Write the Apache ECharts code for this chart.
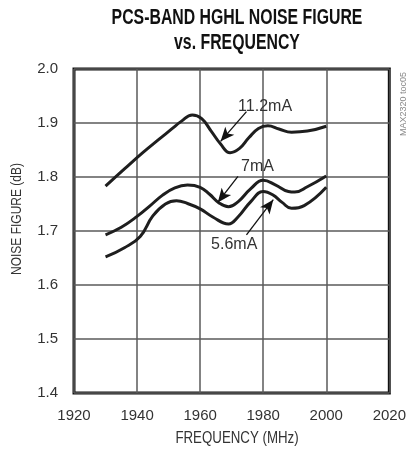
<!DOCTYPE html>
<html>
<head>
<meta charset="utf-8">
<script src="https://cdn.jsdelivr.net/npm/echarts@6/dist/echarts.min.js"></script>
<style>
    html, body { margin: 0; padding: 0; background: #fff; }
    #chart { width: 409px; height: 452px; }
</style>
</head>
<body>
<div id="chart"></div>
<script>
    // 频率轴刻度
    var xTicks = [1920, 1940, 1960, 1980, 2000, 2020]
    var yTicks = [1.4, 1.5, 1.6, 1.7, 1.8, 1.9, 2.0]

    // 11.2mA
    var freq112 = [1930, 1936, 1942, 1947, 1951, 1954, 1957.5, 1960.5, 1963.5, 1966.5, 1969.5, 1972.5, 1975.5, 1978.5, 1981.5, 1985, 1989, 1994, 2000]
    var nf112 = [1.783, 1.815, 1.846, 1.870, 1.889, 1.903, 1.915, 1.908, 1.885, 1.861, 1.845, 1.853, 1.873, 1.890, 1.895, 1.889, 1.883, 1.885, 1.894]

    // 7mA
    var freq7 = [1930, 1935, 1940, 1944, 1948, 1952, 1956, 1960, 1963, 1966, 1969, 1972, 1976, 1980, 1984, 1988, 1990, 1994, 2000]
    var nf7 = [1.693, 1.707, 1.727, 1.746, 1.766, 1.780, 1.785, 1.781, 1.768, 1.752, 1.745, 1.754, 1.778, 1.794, 1.785, 1.773, 1.772, 1.782, 1.802]

    // 5.6mA
    var freq56 = [1930, 1936, 1941, 1945, 1949, 1952.5, 1956, 1960, 1964, 1969, 1972, 1976, 1980, 1983, 1986, 1989, 1993, 2000]
    var nf56 = [1.652, 1.669, 1.690, 1.728, 1.750, 1.756, 1.751, 1.741, 1.726, 1.713, 1.726, 1.754, 1.773, 1.767, 1.753, 1.742, 1.747, 1.781]

    // 标注: 文字位置, 箭头起点, 箭头终点
    var curveNames = ['11.2mA', '7mA', '5.6mA']
    var labelPos = [[1980.6, 1.931], [1978.2, 1.820], [1970.8, 1.674]]
    var arrowFrom = [[1974.7, 1.921], [1972.0, 1.801], [1974.7, 1.693]]
    var arrowTo = [[1966.5, 1.866], [1965.6, 1.753], [1983.2, 1.758]]

    var font = '"Liberation Sans", Arial, sans-serif'

    function pairs (xs, ys) {
        return xs.map(function (x, i) { return [x, ys[i]] })
    }

    function makeSeries (name, data, idx) {
        return {
            name: name,
            type: 'line',
            data: data,
            smooth: 0.45,
            symbol: 'none',
            lineStyle: { color: '#1e1e1e', width: 3 },
            markLine: {
                silent: true,
                symbol: ['none', 'arrow'],
                symbolSize: [9, 14],
                lineStyle: { color: '#111', width: 1.3, type: 'solid' },
                label: { show: false },
                data: [[{ coord: arrowFrom[idx] }, { coord: arrowTo[idx] }]]
            },
            markPoint: {
                silent: true,
                symbol: 'circle',
                symbolSize: 1,
                itemStyle: { color: 'rgba(0,0,0,0)' },
                label: {
                    show: true,
                    position: 'inside',
                    align: 'center',
                    verticalAlign: 'middle',
                    formatter: name,
                    color: '#333',
                    fontSize: 16,
                    fontFamily: font
                },
                data: [{ coord: labelPos[idx] }]
            }
        }
    }

    var chart = echarts.init(document.getElementById('chart'))
    var option = {
        animation: false,
        backgroundColor: '#fff',
        grid: {
            left: 74,
            right: 10,
            top: 69,
            bottom: 59,
            show: true,
            borderColor: '#111',
            borderWidth: 3
        },
        xAxis: {
            type: 'value',
            min: xTicks[0],
            max: xTicks[xTicks.length - 1],
            interval: 20,
            axisLine: { show: false },
            axisTick: { show: false },
            splitLine: { show: true, lineStyle: { color: '#5a5a5a', width: 1.5 } },
            axisLabel: {
                margin: 15,
                color: '#333',
                fontSize: 15,
                fontFamily: font,
                formatter: function (v) { return String(v) }
            }
        },
        yAxis: {
            type: 'value',
            min: yTicks[0],
            max: yTicks[yTicks.length - 1],
            interval: 0.1,
            axisLine: { show: false },
            axisTick: { show: false },
            splitLine: { show: true, lineStyle: { color: '#5a5a5a', width: 1.5 } },
            axisLabel: {
                margin: 16,
                color: '#333',
                fontSize: 15,
                fontFamily: font,
                formatter: function (v) { return v.toFixed(1) }
            }
        },
        graphic: [
            {
                // 标题 (窄体字)
                type: 'text',
                x: 237,
                y: 5,
                scaleX: 0.72,
                style: {
                    text: 'PCS-BAND HGHL NOISE FIGURE\nvs. FREQUENCY',
                    align: 'center',
                    verticalAlign: 'top',
                    fill: '#111',
                    font: 'bold 22px ' + font,
                    lineHeight: 25
                }
            },
            {
                type: 'text',
                x: 237,
                y: 431,
                scaleX: 0.83,
                style: { text: 'FREQUENCY (MHz)', align: 'center', verticalAlign: 'top', fill: '#333', font: '16px ' + font }
            },
            {
                type: 'text',
                x: 9,
                y: 219,
                rotation: Math.PI / 2,
                scaleX: 0.8,
                style: { text: 'NOISE FIGURE (dB)', align: 'center', verticalAlign: 'top', fill: '#333', font: '15px ' + font }
            },
            {
                type: 'text',
                x: 399,
                y: 104,
                rotation: Math.PI / 2,
                style: { text: 'MAX2320 toc05', align: 'center', verticalAlign: 'top', fill: '#888', font: '9px ' + font }
            }
        ],
        series: [
            makeSeries(curveNames[0], pairs(freq112, nf112), 0),
            makeSeries(curveNames[1], pairs(freq7, nf7), 1),
            makeSeries(curveNames[2], pairs(freq56, nf56), 2)
        ]
    }
    option && chart.setOption(option)
</script>
</body>
</html>
